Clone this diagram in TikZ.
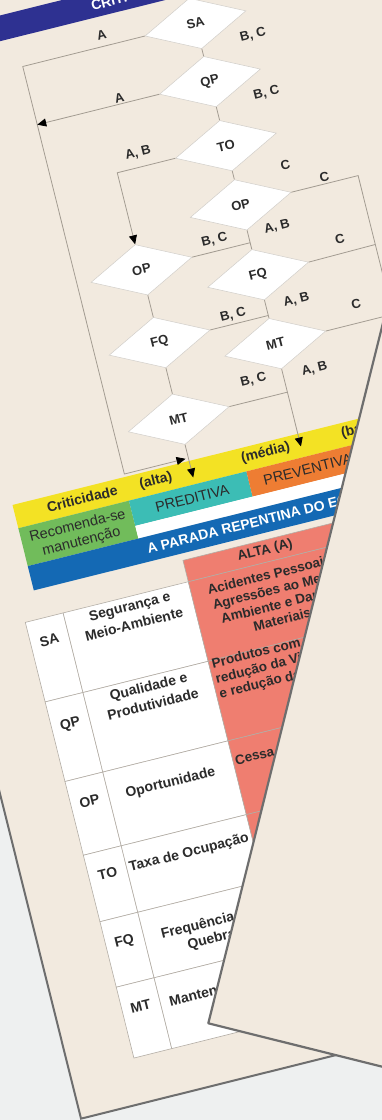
\documentclass[tikz,border=0pt]{standalone}
\usepackage{fontspec}
\setmainfont{Liberation Sans}
\usetikzlibrary{shapes.geometric,arrows.meta}

\definecolor{pagebg}{HTML}{F2EADF}
\definecolor{deskbg}{HTML}{EEF0F0}
\definecolor{edge}{HTML}{6E6E6E}
\definecolor{indigo}{HTML}{2E3191}
\definecolor{crityellow}{HTML}{F3E224}
\definecolor{recgreen}{HTML}{71BC5B}
\definecolor{predteal}{HTML}{3CBDB5}
\definecolor{prevorange}{HTML}{EE7D33}
\definecolor{barblue}{HTML}{1469B4}
\definecolor{salmon}{HTML}{EF7E70}
\definecolor{ink}{HTML}{2B2B2B}
\definecolor{wire}{HTML}{A39C92}
\definecolor{gridline}{HTML}{B3ADA5}

\tikzset{
  decision/.style={diamond, draw=gridline!60, line width=0.5pt, fill=white,
    minimum width=104pt, minimum height=52pt, inner sep=0pt, text=ink,
    font=\bfseries\fontsize{13}{15}\selectfont},
  wire/.style={draw=wire, line width=0.8pt},
  tip/.style={-{Triangle[length=9pt,width=8pt,color=black]}},
  lab/.style={font=\bfseries\fontsize{13}{15}\selectfont, text=ink, inner sep=0pt},
  bartext/.style={font=\bfseries\fontsize{14}{16}\selectfont, text=ink, inner sep=0pt, align=center},
  plaintext/.style={font=\fontsize{14.5}{16}\selectfont, text=ink, inner sep=0pt},
  celltext/.style={font=\bfseries\fontsize{14}{18.5}\selectfont, text=ink, inner sep=0pt, align=center},
  redtext/.style={font=\bfseries\fontsize{13.5}{15.5}\selectfont, text=ink, inner sep=0pt},
  cellgrid/.style={draw=gridline, line width=0.6pt},
}

\begin{document}
\begin{tikzpicture}[x=1pt,y=1pt]
\useasboundingbox (0,0) rectangle (382,-1120);
\clip (0,0) rectangle (382,-1120);
\fill[deskbg] (-10,10) rectangle (400,-1130);

\begin{scope}[rotate=14, transform shape]
  % sheet
  \filldraw[fill=pagebg, draw=edge, line width=2pt] (-192,-1105) rectangle (760,120);

  % title band
  \fill[indigo] (-260,-15) rectangle (420,-40);
  \node[anchor=west, text=white, font=\bfseries\fontsize{14}{16}\selectfont, inner sep=0pt]
    (title) at (87,-28) {CRITICIDADE};

  % criticality bars
  \fill[crityellow] (-110,-493) rectangle (420,-517);
  \fill[recgreen] (-110,-517) rectangle (4,-556);
  \fill[predteal] (4,-517) rectangle (125,-543);
  \fill[prevorange] (125,-517) rectangle (245,-543);
  \fill[white] (4,-543) rectangle (420,-556);
  \fill[barblue] (-110,-556) rectangle (420,-581);

  \node[bartext] (crit) at (-41,-504) {Criticidade};
  \node[bartext] (alta) at (35,-504) {(alta)};
  \node[bartext] (media) at (148,-504) {(média)};
  \node[bartext, anchor=west] (baixa) at (226,-504) {(baixa)};
  \node[bartext, font=\fontsize{14.5}{16}\selectfont] (rec) at (-52,-537.5)
    {Recomenda-se\\manutenção};
  \node[plaintext] (pred) at (66,-530) {PREDITIVA};
  \node[plaintext] (prev) at (185,-530) {PREVENTIVA};
  \node[anchor=west, text=white, font=\bfseries\fontsize{14}{16}\selectfont, inner sep=0pt]
    (parada) at (10,-569.5) {A PARADA REPENTINA DO EQUIPAMENTO};

  % table: header of the first consequence column
  \filldraw[fill=salmon, cellgrid] (42,-588) rectangle (206,-610);
  \node[bartext, font=\bfseries\fontsize{13.5}{15}\selectfont] (hAlta) at (124,-598.5) {ALTA (A)};

  % table rows
  \foreach \t/\b in {-610/-692, -692/-774, -774/-850, -850/-918.5, -918.5/-986, -986/-1059}{
    \filldraw[fill=white, cellgrid] (-126,\t) rectangle (-87,\b);
    \filldraw[fill=white, cellgrid] (-87,\t) rectangle (42,\b);
    \filldraw[fill=salmon, cellgrid] (42,\t) rectangle (206,\b);
  }

  \node[celltext] (kSA) at (-107,-633) {SA};
  \node[celltext] (kQP) at (-107,-720) {QP};
  \node[celltext] (kOP) at (-107,-799) {OP};
  \node[celltext] (kTO) at (-107,-874) {TO};
  \node[celltext] (kFQ) at (-107,-943.5) {FQ};
  \node[celltext] (kMT) at (-107,-1010.5) {MT};

  \node[celltext] (nSA) at (-21,-629) {Segurança e\\Meio-Ambiente};
  \node[celltext] (nQP) at (-22,-711) {Qualidade e\\Produtividade};
  \node[celltext] (nOP) at (-24,-801) {Oportunidade};
  \node[celltext] (nTO) at (-23,-873.5) {Taxa de Ocupação};
  \node[celltext, font=\bfseries\fontsize{14}{17}\selectfont] (nFQ) at (-22,-954.5) {Frequência de\\Quebra};
  \node[celltext] (nMT) at (-23,-1013) {Mantenabilidade};

  \node[redtext, align=center] (aSA) at (124,-646)
    {Acidentes Pessoais,\\Agressões ao Meio-\\Ambiente e Danos\\Materiais};
  \node[redtext, align=left, anchor=north west] (aQP) at (45,-690)
    {Produtos com defeito,\\redução da Vida útil\\e redução da produção};
  \node[redtext, anchor=west] (aOP) at (44,-796) {Cessa a produção};

  % decisions
  \node[decision] (SA)  at (184,-70)  {SA};
  \node[decision] (QP)  at (184,-130) {QP};
  \node[decision] (TO)  at (184,-196) {TO};
  \node[decision] (OPr) at (184,-257) {OP};
  \node[decision] (FQr) at (184,-329) {FQ};
  \node[decision] (MTr) at (184,-400) {MT};
  \node[decision] (OPl) at (72,-296)  {OP};
  \node[decision] (FQl) at (72,-371)  {FQ};
  \node[decision] (MTl) at (72,-450)  {MT};

  % routing points
  \coordinate (kA1) at (6,-70);
  \coordinate (kA2) at (6,-130);
  \coordinate (kA3) at (6,-490);
  \coordinate (kAlta) at (69,-490);
  \coordinate (kAltaDown) at (72,-510);
  \coordinate (kAB) at (72,-196);
  \coordinate (kC1) at (305,-257);
  \coordinate (kC2) at (305,-328);
  \coordinate (kC3) at (305,-400);
  \coordinate (kCend) at (305,-506);
  \coordinate (kJ1) at (184,-296);
  \coordinate (kJ2) at (184,-371);
  \coordinate (kJ3) at (184,-450);
  \coordinate (kMedia) at (184,-506);

  % connectors
  \draw[wire] (SA.south) -- (QP.north);
  \draw[wire, tip] (SA.west) -- (kA1) -- (kA3) -- (kAlta);
  \draw[wire, tip] (QP.west) -- (kA2);
  \draw[wire] (QP.south) -- (TO.north);
  \draw[wire, tip] (TO.west) -- (kAB) -- (OPl.north);
  \draw[wire] (TO.south) -- (OPr.north);
  \draw[wire, tip] (OPr.east) -- (kC1) -- (kCend);
  \draw[wire] (OPr.south) -- (FQr.north);
  \draw[wire] (OPl.east) -- (kJ1);
  \draw[wire] (OPl.south) -- (FQl.north);
  \draw[wire] (FQr.east) -- (kC2);
  \draw[wire] (FQr.south) -- (MTr.north);
  \draw[wire] (FQl.east) -- (kJ2);
  \draw[wire] (FQl.south) -- (MTl.north);
  \draw[wire] (MTr.east) -- (kC3);
  \draw[wire, tip] (MTr.south) -- (kMedia);
  \draw[wire] (MTl.east) -- (kJ3);
  \draw[wire, tip] (MTl.south) -- (kAltaDown);

  % connector labels
  \node[lab] (l1)  at (90,-59)   {A};
  \node[lab] (l2)  at (237,-95)  {B, C};
  \node[lab] (l3)  at (92,-124)  {A};
  \node[lab] (l4)  at (236,-155) {B, C};
  \node[lab] (l5)  at (97,-182)  {A, B};
  \node[lab] (l6)  at (237,-229) {C};
  \node[lab] (l7)  at (272,-250) {C};
  \node[lab] (l8)  at (150,-285) {B, C};
  \node[lab] (l9)  at (214,-287) {A, B};
  \node[lab] (l10) at (272,-314) {C};
  \node[lab] (l11) at (150,-362) {B, C};
  \node[lab] (l12) at (215,-363) {A, B};
  \node[lab] (l13) at (272,-381) {C};
  \node[lab] (l14) at (154,-430) {B, C};
  \node[lab] (l15) at (216,-434) {A, B};
\end{scope}

% second sheet lying over the right side
\fill[pagebg] (208.3,-1023.3) -- (466,10) -- (600,10) -- (600,-1121) -- cycle;
\draw[edge, line width=2.2pt, line join=round] (466,10) -- (208.3,-1023.3) -- (600,-1121);
\end{tikzpicture}
\end{document}
